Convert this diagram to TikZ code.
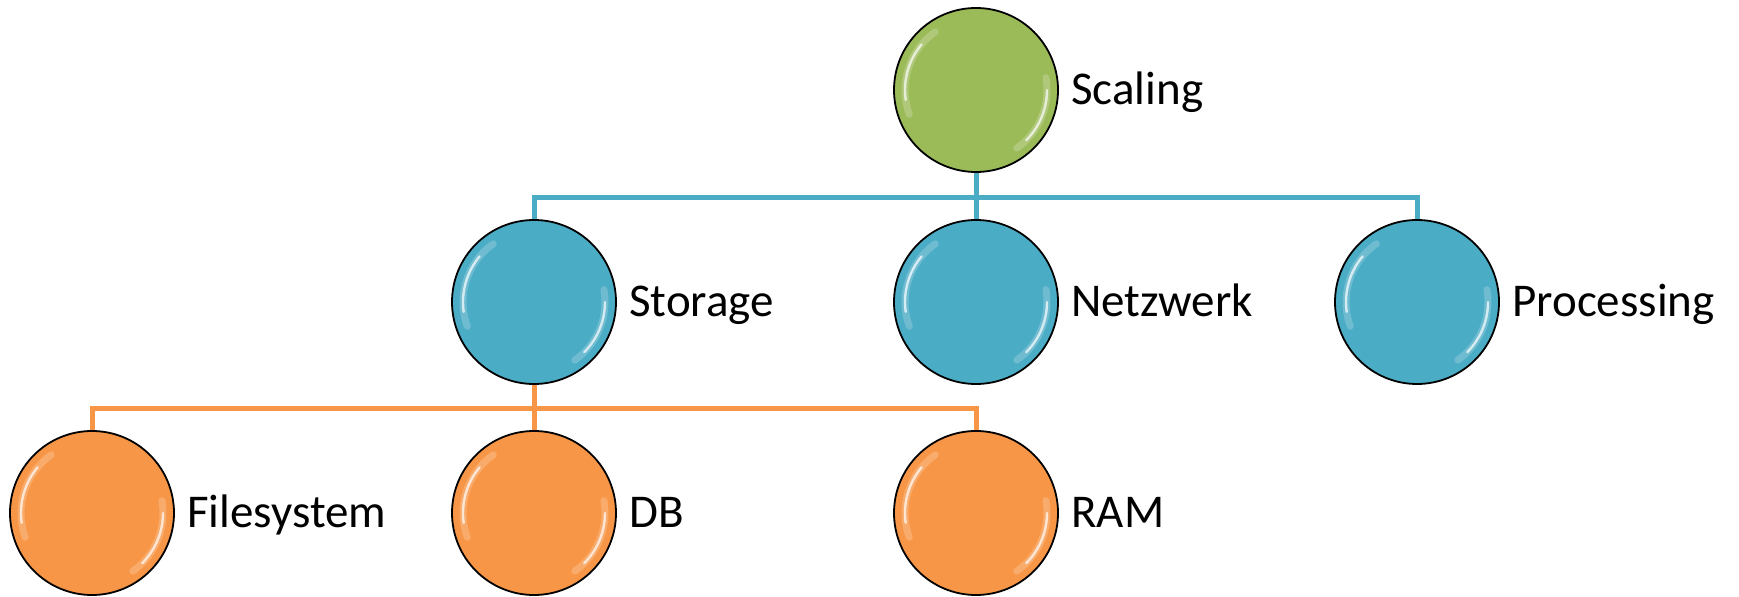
\documentclass[tikz,border=0pt]{standalone}
\usepackage{fontspec}
\setmainfont{Carlito}
\usetikzlibrary{positioning}
\definecolor{olive}{HTML}{9BBB59}
\definecolor{aqua}{HTML}{4BACC6}
\definecolor{peach}{HTML}{F79646}

\begin{document}
\begin{tikzpicture}
[every node/.style={inner sep=0pt},
 ball/.style={circle, minimum size=82pt, line width=0.9pt, draw=black, fill=#1,
   path picture={
     \draw [white, opacity=0.2, line width=3.5pt, line cap=round] ([shift={(125:35.5pt)}]path picture bounding box.center) arc (125:200:35.5pt);
     \draw [white, opacity=0.7, line width=1.2pt, line cap=round] ([shift={(140:35.5pt)}]path picture bounding box.center) arc (140:188:35.5pt);
     \draw [white, opacity=0.2, line width=3.5pt, line cap=round] ([shift={(10:35.5pt)}]path picture bounding box.center) arc (10:-55:35.5pt);
     \draw [white, opacity=0.7, line width=1.2pt, line cap=round] ([shift={(0:35.5pt)}]path picture bounding box.center) arc (0:-45:35.5pt);
   }},
 tag/.style={font=\fontsize{23.5pt}{28pt}\selectfont, text height=15pt, text depth=0pt},
 bus/.style={line width=2.5pt}]
\useasboundingbox (0pt, 0pt) rectangle (869.5pt, -298.5pt);
% circles
\node (scaling) [ball=olive] at (488pt, -45pt) {};
\node (storage) [ball=aqua] at (267pt, -151pt) {};
\node (netzwerk) [ball=aqua] at (488pt, -151pt) {};
\node (processing) [ball=aqua] at (708.5pt, -151pt) {};
\node (filesystem) [ball=peach] at (46pt, -256.5pt) {};
\node (db) [ball=peach] at (267pt, -256.5pt) {};
\node (ram) [ball=peach] at (488pt, -256.5pt) {};
% labels
\node (scaling-tag) [tag, right=6pt of scaling] {Scaling};
\node (storage-tag) [tag, right=6pt of storage] {Storage};
\node (netzwerk-tag) [tag, right=6pt of netzwerk] {Netzwerk};
\node (processing-tag) [tag, right=6pt of processing] {Processing};
\node (filesystem-tag) [tag, right=6pt of filesystem] {Filesystem};
\node (db-tag) [tag, right=6pt of db] {DB};
\node (ram-tag) [tag, right=6pt of ram] {RAM};
% connectors
\draw [bus, color=aqua] (scaling) -- (netzwerk);
\draw [bus, color=aqua] (scaling.south) -- ++(0, -12.5pt) -| (storage.north);
\draw [bus, color=aqua] (scaling.south) -- ++(0, -12.5pt) -| (processing.north);
\draw [bus, color=peach] (storage) -- (db);
\draw [bus, color=peach] (storage.south) -- ++(0, -12pt) -| (filesystem.north);
\draw [bus, color=peach] (storage.south) -- ++(0, -12pt) -| (ram.north);
\end{tikzpicture}
\end{document}
